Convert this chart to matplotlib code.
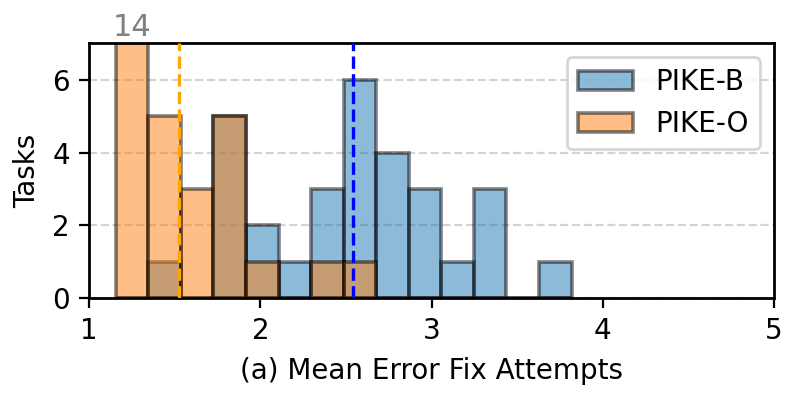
import numpy as np
import matplotlib
matplotlib.use("Agg")
import matplotlib.pyplot as plt

# bin edges shared by both series
bin_edges = np.linspace(1.155, 3.818, 15)
pike_b_counts = [0, 1, 0, 5, 2, 1, 3, 6, 4, 3, 1, 3, 0, 1]
pike_o_counts = [14, 5, 3, 5, 1, 0, 1, 1, 0, 0, 0, 0, 0, 0]
pike_b_mean = 2.54
pike_o_mean = 1.522
y_max = 7

fig = plt.figure(figsize=(3.985, 1.995), dpi=200)
ax = fig.add_axes([0.112, 0.253, 0.859, 0.638])

centers = (bin_edges[:-1] + bin_edges[1:]) / 2
ax.hist(centers, bins=bin_edges, weights=pike_b_counts, color='tab:blue', alpha=0.5,
        edgecolor='black', linewidth=1.3, label='PIKE-B', zorder=2)
ax.hist(centers, bins=bin_edges, weights=pike_o_counts, color='tab:orange', alpha=0.5,
        edgecolor='black', linewidth=1.3, label='PIKE-O', zorder=2)

ax.axvline(pike_b_mean, color='blue', linestyle='--', linewidth=1.2, zorder=3)
ax.axvline(pike_o_mean, color='orange', linestyle='--', linewidth=1.2, zorder=3)

# the tall bar is clipped, so write its count on top
for c, n in zip(centers, pike_o_counts):
    if n > y_max:
        ax.text(c, y_max + 0.05, str(n), ha='center', va='bottom', color='gray', fontsize=11)

ax.set_xlim(1, 5)
ax.set_ylim(0, y_max)
ax.set_xticks([1, 2, 3, 4, 5])
ax.set_yticks([0, 2, 4, 6])
ax.tick_params(labelsize=10)
for s in ax.spines.values():
    s.set_linewidth(1.0)
ax.yaxis.grid(True, linestyle='--', color='lightgray', linewidth=0.8, zorder=0)
ax.set_axisbelow(True)
ax.set_xlabel('(a) Mean Error Fix Attempts', fontsize=10)
ax.set_ylabel('Tasks', fontsize=10)
ax.legend(loc='upper right', fontsize=10)

fig.savefig('out.png', dpi=200)
